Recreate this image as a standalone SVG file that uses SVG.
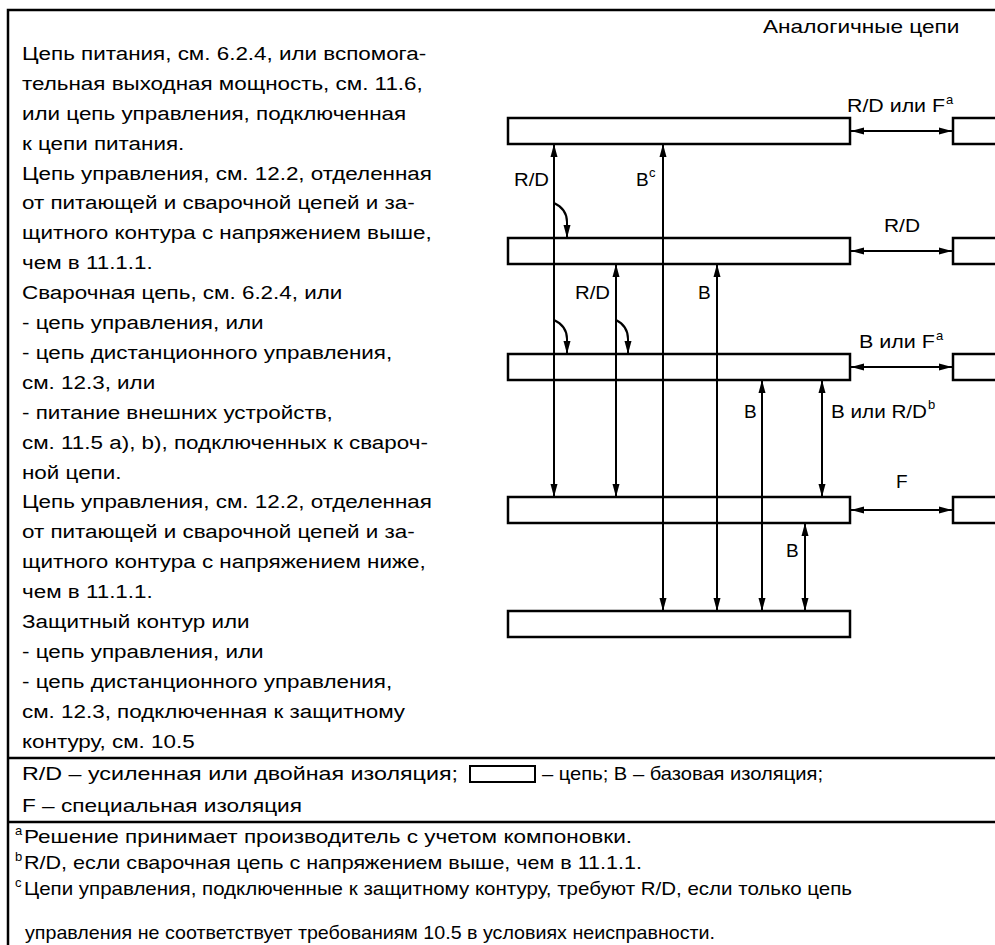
<svg xmlns="http://www.w3.org/2000/svg" width="995" height="945" viewBox="0 0 995 945">
<style>
.t{font-family:"Liberation Sans",Arial,sans-serif;font-size:19px;fill:#000}
.s{font-family:"Liberation Sans",Arial,sans-serif;font-size:13px;fill:#000}
.box{fill:#fff;stroke:#000;stroke-width:2.5}
.frame{stroke:#000;stroke-width:2.5;fill:none}
.ln{stroke:#000;stroke-width:2;fill:none}
</style>
<defs>
<marker id="ah" markerUnits="userSpaceOnUse" markerWidth="14" markerHeight="8" refX="13" refY="4" orient="auto-start-reverse">
<path d="M0,0.5 L13,4 L0,7.5 z" fill="#000"/>
</marker>
</defs>
<rect width="995" height="945" fill="#fff"/>
<g id="frame">
<path class="frame" d="M8,945 V10 H995 M8,758 H995 M8,822 H995"/>
</g>
<g id="left-text" class="t" transform="translate(22 0) scale(1.18 1)">
<text x="0" y="60">Цепь питания, см. 6.2.4, или вспомога-</text>
<text x="0" y="89.9">тельная выходная мощность, см. 11.6,</text>
<text x="0" y="119.8">или цепь управления, подключенная</text>
<text x="0" y="149.7">к цепи питания.</text>
<text x="0" y="179.6">Цепь управления, см. 12.2, отделенная</text>
<text x="0" y="209.5">от питающей и сварочной цепей и за-</text>
<text x="0" y="239.4">щитного контура с напряжением выше,</text>
<text x="0" y="269.3">чем в 11.1.1.</text>
<text x="0" y="299.2">Сварочная цепь, см. 6.2.4, или</text>
<text x="0" y="329.1">- цепь управления, или</text>
<text x="0" y="359">- цепь дистанционного управления,</text>
<text x="0" y="388.9">см. 12.3, или</text>
<text x="0" y="418.8">- питание внешних устройств,</text>
<text x="0" y="448.7">см. 11.5 a), b), подключенных к свароч-</text>
<text x="0" y="478.6">ной цепи.</text>
<text x="0" y="508.5">Цепь управления, см. 12.2, отделенная</text>
<text x="0" y="538.4">от питающей и сварочной цепей и за-</text>
<text x="0" y="568.3">щитного контура с напряжением ниже,</text>
<text x="0" y="598.2">чем в 11.1.1.</text>
<text x="0" y="628.1">Защитный контур или</text>
<text x="0" y="658">- цепь управления, или</text>
<text x="0" y="687.9">- цепь дистанционного управления,</text>
<text x="0" y="717.8">см. 12.3, подключенная к защитному</text>
<text x="0" y="747.7">контуру, см. 10.5</text>
</g>
<text class="t" transform="translate(763 33) scale(1.19 1)">Аналогичные цепи</text>
<g id="n1"><rect class="box" x="508" y="118" width="342" height="26"/></g>
<g id="n2"><rect class="box" x="508" y="238" width="342" height="26"/></g>
<g id="n3"><rect class="box" x="508" y="354" width="342" height="26"/></g>
<g id="n4"><rect class="box" x="508" y="497" width="342" height="26"/></g>
<g id="n5"><rect class="box" x="508" y="611" width="342" height="26"/></g>
<g id="r1"><rect class="box" x="953" y="118" width="60" height="26"/></g>
<g id="r2"><rect class="box" x="953" y="238" width="60" height="26"/></g>
<g id="r3"><rect class="box" x="953" y="354" width="60" height="26"/></g>
<g id="r4"><rect class="box" x="953" y="497" width="60" height="26"/></g>
<g id="connectors" class="ln">
<line x1="554" y1="144" x2="554" y2="497" marker-start="url(#ah)" marker-end="url(#ah)"/>
<path d="M554,203 Q567,209 567,222 L567,238" marker-end="url(#ah)"/>
<path d="M554,320 Q567,326 567,339 L567,354" marker-end="url(#ah)"/>
<line x1="663" y1="144" x2="663" y2="611" marker-start="url(#ah)" marker-end="url(#ah)"/>
<line x1="616" y1="264" x2="616" y2="497" marker-start="url(#ah)" marker-end="url(#ah)"/>
<path d="M616,320 Q628,326 628,339 L628,354" marker-end="url(#ah)"/>
<line x1="717" y1="264" x2="717" y2="611" marker-start="url(#ah)" marker-end="url(#ah)"/>
<line x1="762" y1="380" x2="762" y2="611" marker-start="url(#ah)" marker-end="url(#ah)"/>
<line x1="822" y1="380" x2="822" y2="497" marker-start="url(#ah)" marker-end="url(#ah)"/>
<line x1="805" y1="523" x2="805" y2="611" marker-start="url(#ah)" marker-end="url(#ah)"/>
<line x1="851" y1="131" x2="952" y2="131" marker-start="url(#ah)" marker-end="url(#ah)"/>
<line x1="851" y1="251" x2="952" y2="251" marker-start="url(#ah)" marker-end="url(#ah)"/>
<line x1="851" y1="367" x2="952" y2="367" marker-start="url(#ah)" marker-end="url(#ah)"/>
<line x1="851" y1="510" x2="952" y2="510" marker-start="url(#ah)" marker-end="url(#ah)"/>
</g>
<g id="labels">
<text class="t" x="514" y="186" textLength="35" lengthAdjust="spacingAndGlyphs">R/D</text>
<text class="t" x="636" y="186">В</text><text class="s" x="649" y="177">c</text>
<text class="t" x="575" y="299" textLength="35" lengthAdjust="spacingAndGlyphs">R/D</text>
<text class="t" x="698" y="299">В</text>
<text class="t" x="744" y="418">В</text>
<text class="t" x="831" y="418" textLength="96" lengthAdjust="spacingAndGlyphs">В или R/D</text><text class="s" x="928" y="409">b</text>
<text class="t" x="786" y="557">В</text>
<text class="t" x="847" y="112" textLength="98" lengthAdjust="spacingAndGlyphs">R/D или F</text><text class="s" x="946" y="104">a</text>
<text class="t" x="884" y="232" textLength="36" lengthAdjust="spacingAndGlyphs">R/D</text>
<text class="t" x="859" y="348" textLength="76" lengthAdjust="spacingAndGlyphs">В или F</text><text class="s" x="936" y="340">a</text>
<text class="t" x="896" y="488">F</text>
</g>
<g id="legend">
<text class="t" x="22" y="780" textLength="436" lengthAdjust="spacingAndGlyphs">R/D – усиленная или двойная изоляция;</text>
<rect x="470" y="766" width="65" height="16" fill="none" stroke="#000" stroke-width="2"/>
<text class="t" x="542" y="780" textLength="281" lengthAdjust="spacingAndGlyphs">– цепь; В – базовая изоляция;</text>
<text class="t" x="22" y="812" textLength="280" lengthAdjust="spacingAndGlyphs">F – специальная изоляция</text>
</g>
<g id="footnotes">
<text class="s" x="15" y="835">a</text>
<text class="t" x="24" y="843" textLength="608" lengthAdjust="spacingAndGlyphs">Решение принимает производитель с учетом компоновки.</text>
<text class="s" x="15" y="861">b</text>
<text class="t" x="24" y="869" textLength="618" lengthAdjust="spacingAndGlyphs">R/D, если сварочная цепь с напряжением выше, чем в 11.1.1.</text>
<text class="s" x="15" y="887">c</text>
<text class="t" x="24" y="895" textLength="828" lengthAdjust="spacingAndGlyphs">Цепи управления, подключенные к защитному контуру, требуют R/D, если только цепь</text>
<text class="t" x="25" y="939" textLength="690" lengthAdjust="spacingAndGlyphs">управления не соответствует требованиям 10.5 в условиях неисправности.</text>
</g>
</svg>
